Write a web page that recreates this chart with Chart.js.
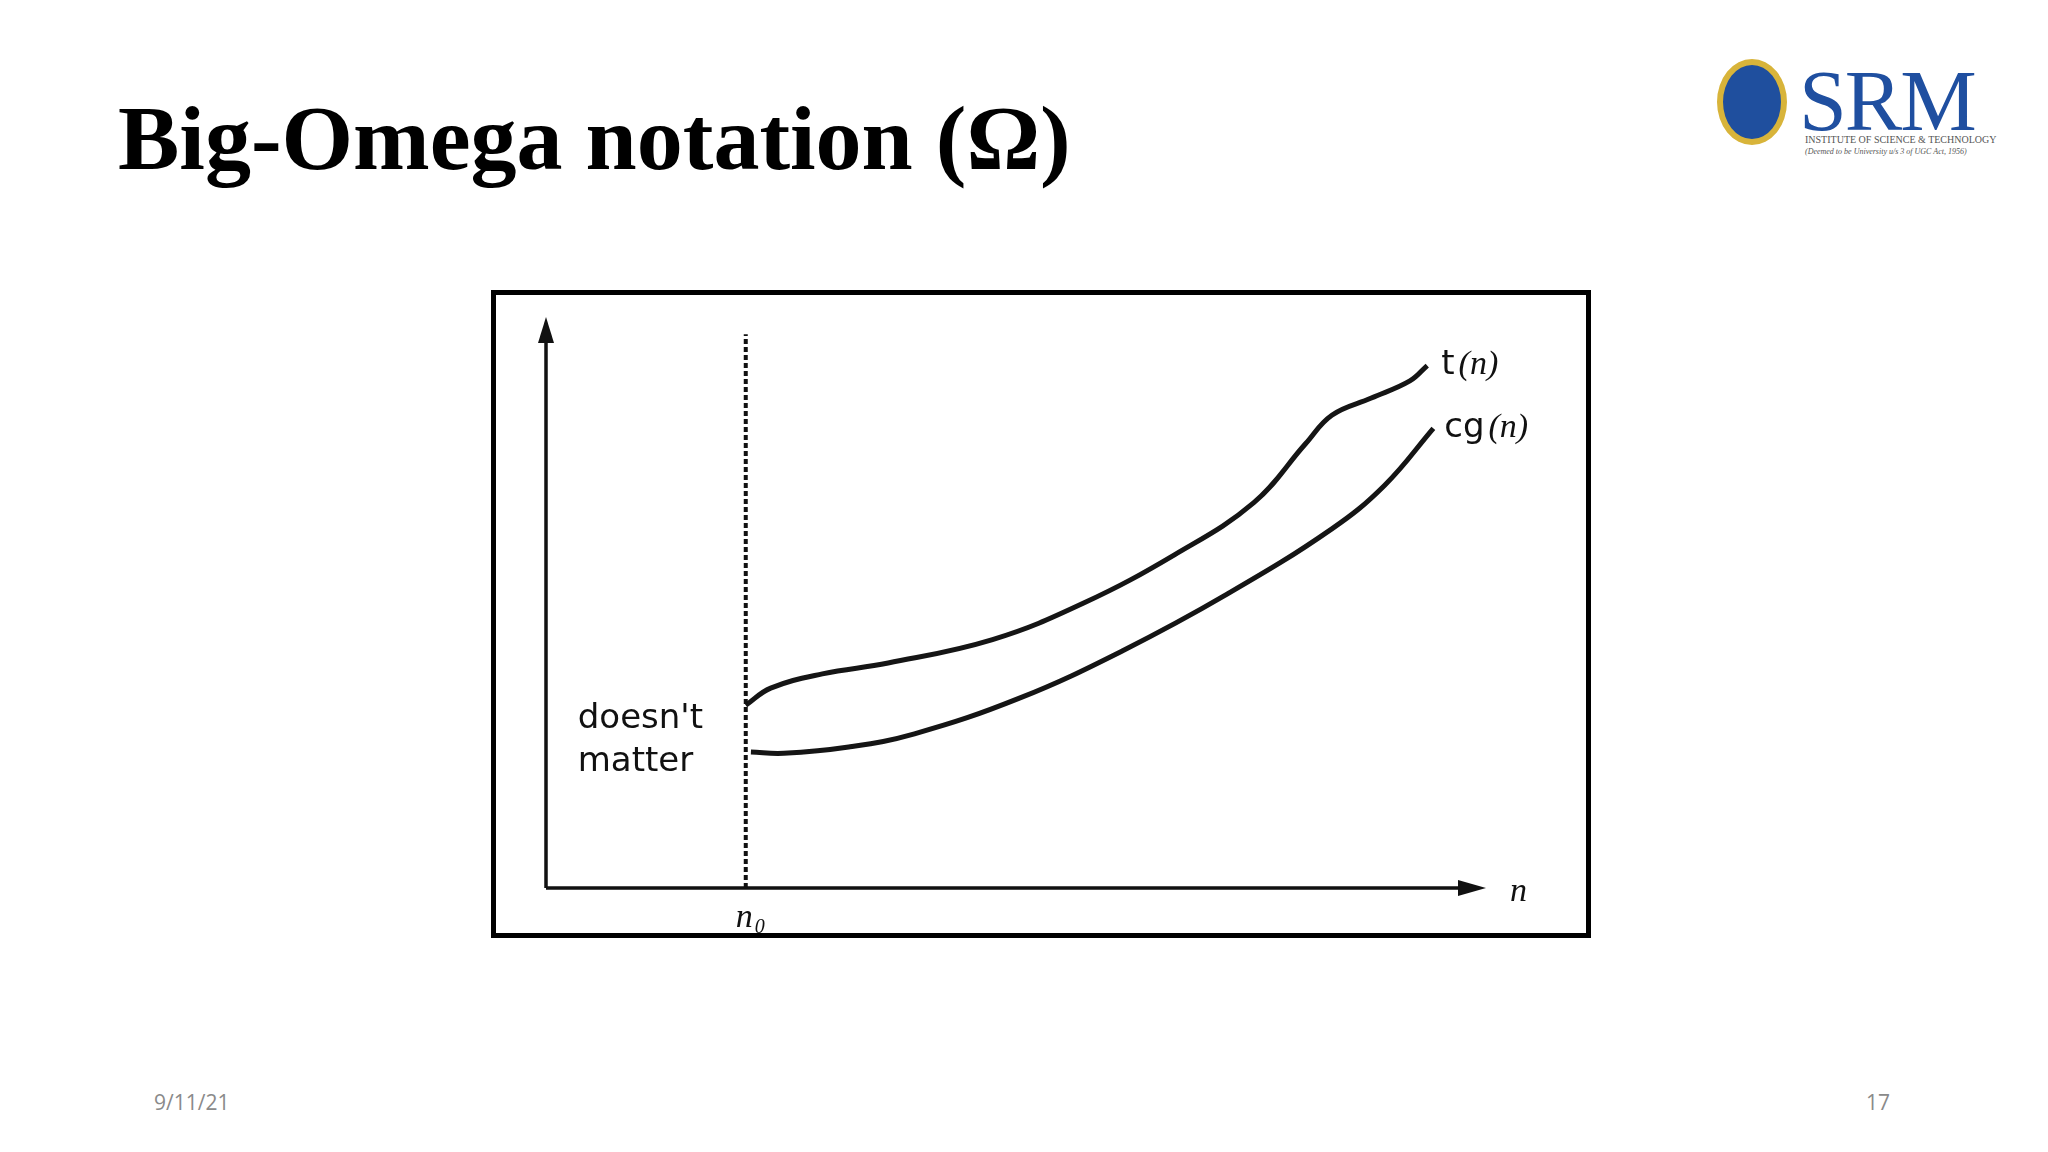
<!DOCTYPE html>
<html><head><meta charset="utf-8">
<script src="https://cdn.jsdelivr.net/npm/chart.js@4"></script>
<style>
body{margin:0;width:2048px;height:1152px;background:#fff;position:relative;overflow:hidden;font-family:"Liberation Serif",serif}
#title{position:absolute;left:118px;top:92px;font-size:92px;font-weight:bold;color:#000;line-height:1}
#box{position:absolute;left:491px;top:290px;width:1090px;height:638px;border:5px solid #000}
#wrap{position:absolute;left:0;top:0;width:1090px;height:638px}
.foot{position:absolute;top:1088px;font-family:"Open Sans",sans-serif;font-size:21px;color:#8a8a8a}
#logo{position:absolute;left:1717px;top:57px;width:260px;height:105px}
#seal{position:absolute;left:0;top:2px;width:70px;height:86px;border-radius:50%;background:#1f4f9e;border:6px solid #d8b43a;box-sizing:border-box}
#srm{position:absolute;left:82px;top:-6px;font-size:86px;color:#1f4fa0;letter-spacing:-2px}
#sub1{position:absolute;left:88px;top:77px;font-size:10px;color:#555;white-space:nowrap}
#sub2{position:absolute;left:88px;top:90px;font-size:8px;font-style:italic;color:#555;white-space:nowrap}
</style></head><body>
<div id="title">Big-Omega notation (Ω)</div>
<div id="logo"><div id="seal"></div><div id="srm">SRM</div>
<div id="sub1">INSTITUTE OF SCIENCE &amp; TECHNOLOGY</div>
<div id="sub2">(Deemed to be University u/s 3 of UGC Act, 1956)</div></div>
<div id="box"><div id="wrap"><canvas id="c"></canvas></div></div>
<div class="foot" style="left:154px">9/11/21</div>
<div class="foot" style="left:1866px">17</div>
<script>
const tX = [21.25, 23.9, 29.4, 36.4, 47.5, 57.2, 66.9, 75.3, 80.8, 83.6, 87.8, 91.9, 93.75];
const tY = [32.0, 35.0, 37.5, 39.4, 43.5, 49.9, 58.4, 67.5, 77.8, 82.8, 85.8, 88.8, 91.5];
const cgX = [21.8, 25.3, 32.2, 39.2, 50.3, 61.4, 72.5, 83.6, 89.2, 94.4];
const cgY = [23.8, 23.6, 24.7, 27.0, 33.2, 41.6, 51.5, 62.9, 70.5, 80.5];
const n0 = 21.25;
const n0Top = 97;

const pts = (xs, ys) => xs.map((x, i) => ({x: x, y: ys[i]}));

const annot = {
  id: 'annot',
  afterDatasetsDraw(chart) {
    const c = chart.ctx, xs = chart.scales.x, ys = chart.scales.y;
    const x0 = xs.getPixelForValue(0), y0 = ys.getPixelForValue(0);
    const xe = xs.getPixelForValue(100), ye = ys.getPixelForValue(100);
    c.save();
    c.strokeStyle = '#111'; c.fillStyle = '#111'; c.lineWidth = 3.5;
    c.beginPath(); c.moveTo(x0, y0); c.lineTo(xe - 10, y0); c.moveTo(x0, y0); c.lineTo(x0, ye + 10); c.stroke();
    c.beginPath(); c.moveTo(xe, y0); c.lineTo(xe - 28, y0 - 8); c.lineTo(xe - 28, y0 + 8); c.closePath(); c.fill();
    c.beginPath(); c.moveTo(x0, ye); c.lineTo(x0 - 8, ye + 26); c.lineTo(x0 + 8, ye + 26); c.closePath(); c.fill();
    const xn = xs.getPixelForValue(n0);
    c.setLineDash([5, 3]); c.lineWidth = 4;
    c.beginPath(); c.moveTo(xn, y0); c.lineTo(xn, ys.getPixelForValue(n0Top)); c.stroke();
    c.setLineDash([]);
    const sans = '34px "DejaVu Sans", sans-serif';
    c.font = sans; c.textBaseline = 'middle';
    c.fillText("doesn't", xn - 168, ys.getPixelForValue(29.5));
    c.fillText('matter', xn - 168, ys.getPixelForValue(22));
    const lx = xs.getPixelForValue(tX[tX.length - 1]) + 14;
    const ly1 = ys.getPixelForValue(91.5), ly2 = ys.getPixelForValue(80.5);
    c.fillText('t', lx, ly1);
    c.fillText('cg', lx + 3, ly2);
    const wt = c.measureText('t').width, wcg = c.measureText('cg').width;
    c.font = 'italic 34px "Liberation Serif", serif';
    c.fillText('(n)', lx + wt + 4, ly1);
    c.fillText('(n)', lx + 3 + wcg + 4, ly2);
    c.fillText('n', xe + 24, y0 + 4);
    c.fillText('n', xn - 10, y0 + 30);
    c.font = 'italic 20px "Liberation Serif", serif';
    c.fillText('0', xn + 9, y0 + 40);
    c.restore();
  }
};

new Chart(document.getElementById('c'), {
  type: 'scatter',
  data: {
    datasets: [
      { label: 't(n)', data: pts(tX, tY), showLine: true, borderColor: '#151515', borderWidth: 5, pointRadius: 0, tension: 0.4 },
      { label: 'cg(n)', data: pts(cgX, cgY), showLine: true, borderColor: '#151515', borderWidth: 5, pointRadius: 0, tension: 0.4 }
    ]
  },
  options: {
    responsive: true, maintainAspectRatio: false, animation: false,
    layout: { padding: { left: 50, right: 100, top: 22, bottom: 45 } },
    plugins: { legend: { display: false }, tooltip: { enabled: false } },
    scales: {
      x: { display: false, min: 0, max: 100 },
      y: { display: false, min: 0, max: 100 }
    }
  },
  plugins: [annot]
});
</script>
</body></html>
